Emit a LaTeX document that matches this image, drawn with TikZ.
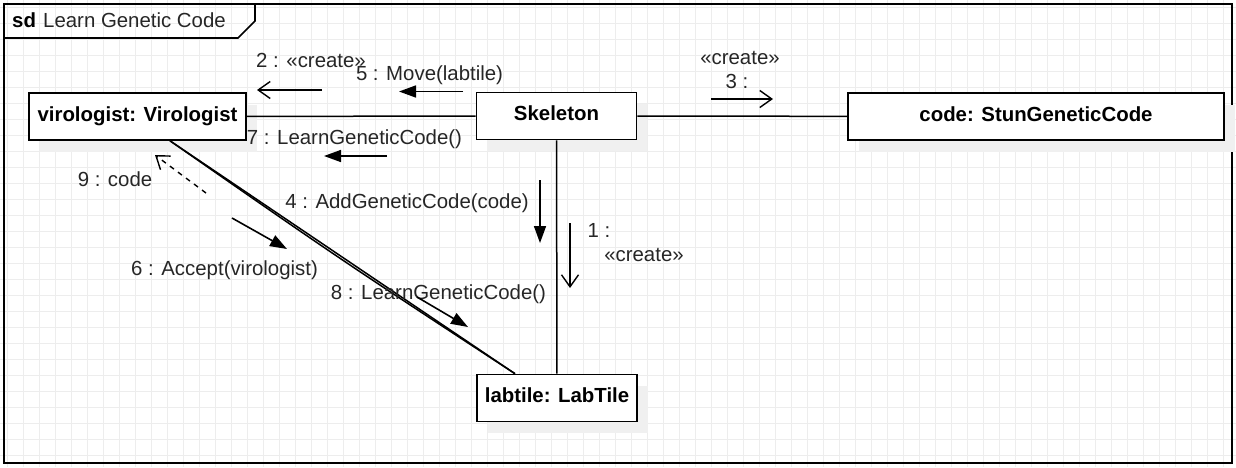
\documentclass[tikz,border=0pt]{standalone}
\usepackage{fontspec}
\setmainfont{Liberation Sans}
\usetikzlibrary{arrows.meta,shadows}
\newcommand{\msgfont}{\fontsize{20.4pt}{24pt}\selectfont}
\tikzset{>=Stealth}
\tikzset{
  obj/.style={draw, line width=1.6pt, fill=white, font=\msgfont\bfseries,
    minimum height=47pt, inner sep=0pt, text height=14.5pt, text depth=5.5pt,
    general shadow={fill=black!6, shadow xshift=10.5pt, shadow yshift=-11.5pt}},
  lbl/.style={inner sep=0pt, font=\msgfont, text=black!85},
  link/.style={line width=1.5pt},
  gridline/.style={black!7, line width=1pt},
  call/.style={line width=1.6pt, -{Triangle[length=17pt,width=12pt]}},
  create/.style={line width=1.4pt, -{Straight Barb[length=12pt,width=17pt]}},
  reply/.style={create, dash pattern=on 5pt off 5pt},
}

\begin{document}
\begin{tikzpicture}[x=1pt,y=-1pt]
    \useasboundingbox (0,0) rectangle (1236,467);
    \foreach \gx in {7,23,...,1236} \draw[gridline] (\gx,0) -- (\gx,467);
    \foreach \gy in {7,23,...,467} \draw[gridline] (0,\gy) -- (1236,\gy);

    \draw[line width=1.6pt] (4,4) rectangle (1232,463);
    \draw[line width=1.6pt] (4,38) -- (238,38) -- (255,21) -- (255,4);
    \node[lbl, anchor=base west, font=\msgfont\bfseries, text=black] (sdtag) at (12,27) {sd};
    \node[lbl, anchor=base west] (sdname) at (43,27) {Learn Genetic Code};

    \node[obj, minimum width=217pt] (viro) at (137.5,116.5) {virologist: Virologist};
    \node[obj, minimum width=160pt] (skel) at (556.5,116) {Skeleton};
    \node[obj, minimum width=376pt] (code) at (1036,116.5) {code: StunGeneticCode};
    \node[obj, minimum width=160pt] (lab) at (557,398) {labtile: LabTile};

    \draw[link] (viro) -- (skel);
    \draw[link] (skel) -- (code);
    \draw[link] (skel) -- (lab);
    \draw[link] ([xshift=32.5pt]viro.south) -- ([xshift=-42pt]lab.north);
    \draw[link] ([xshift=32.5pt]viro.south) .. controls (340.5,259.5) .. ([xshift=-42pt]lab.north);

    \node[lbl, anchor=base] (m2) at (311,67) {2 : «create»};
    \node[lbl, anchor=base] (m5) at (429.5,80) {5 : Move(labtile)};
    \node[lbl, anchor=base] (m7) at (354.5,144) {7 : LearnGeneticCode()};
    \node[lbl, anchor=base] (m3a) at (740,64) {«create»};
    \node[lbl, anchor=base] (m3b) at (737,88) {3 :};
    \node[lbl, anchor=base] (m4) at (407,208) {4 : AddGeneticCode(code)};
    \node[lbl, anchor=base] (m1a) at (599,237) {1 :};
    \node[lbl, anchor=base] (m1b) at (644,261) {«create»};
    \node[lbl, anchor=base] (m8) at (438.5,299) {8 : LearnGeneticCode()};
    \node[lbl, anchor=base] (m6) at (224.5,275.5) {6 : Accept(virologist)};
    \node[lbl, anchor=base] (m9) at (115,186) {9 : code};

    \coordinate (a2s) at (322,90);   \coordinate (a2e) at (257,90);
    \coordinate (a5s) at (463,91.5); \coordinate (a5e) at (399,91.5);
    \coordinate (a7s) at (387,156);  \coordinate (a7e) at (324,156);
    \coordinate (a3s) at (711,99);   \coordinate (a3e) at (773,99);
    \coordinate (a4s) at (540,180);  \coordinate (a4e) at (540,243);
    \coordinate (a1s) at (570,223);  \coordinate (a1e) at (570,288);
    \coordinate (a8s) at (417,297);  \coordinate (a8e) at (468,327);
    \coordinate (a6s) at (232,218);  \coordinate (a6e) at (287,249);
    \coordinate (a9s) at (206,193);  \coordinate (a9e) at (155,155);

    \draw[create] (a2s) -- (a2e);
    \draw[call] (a5s) -- (a5e);
    \draw[call] (a7s) -- (a7e);
    \draw[create] (a3s) -- (a3e);
    \draw[call] (a4s) -- (a4e);
    \draw[create] (a1s) -- (a1e);
    \draw[call] (a8s) -- (a8e);
    \draw[call] (a6s) -- (a6e);
    \draw[reply] (a9s) -- (a9e);
\end{tikzpicture}
\end{document}
